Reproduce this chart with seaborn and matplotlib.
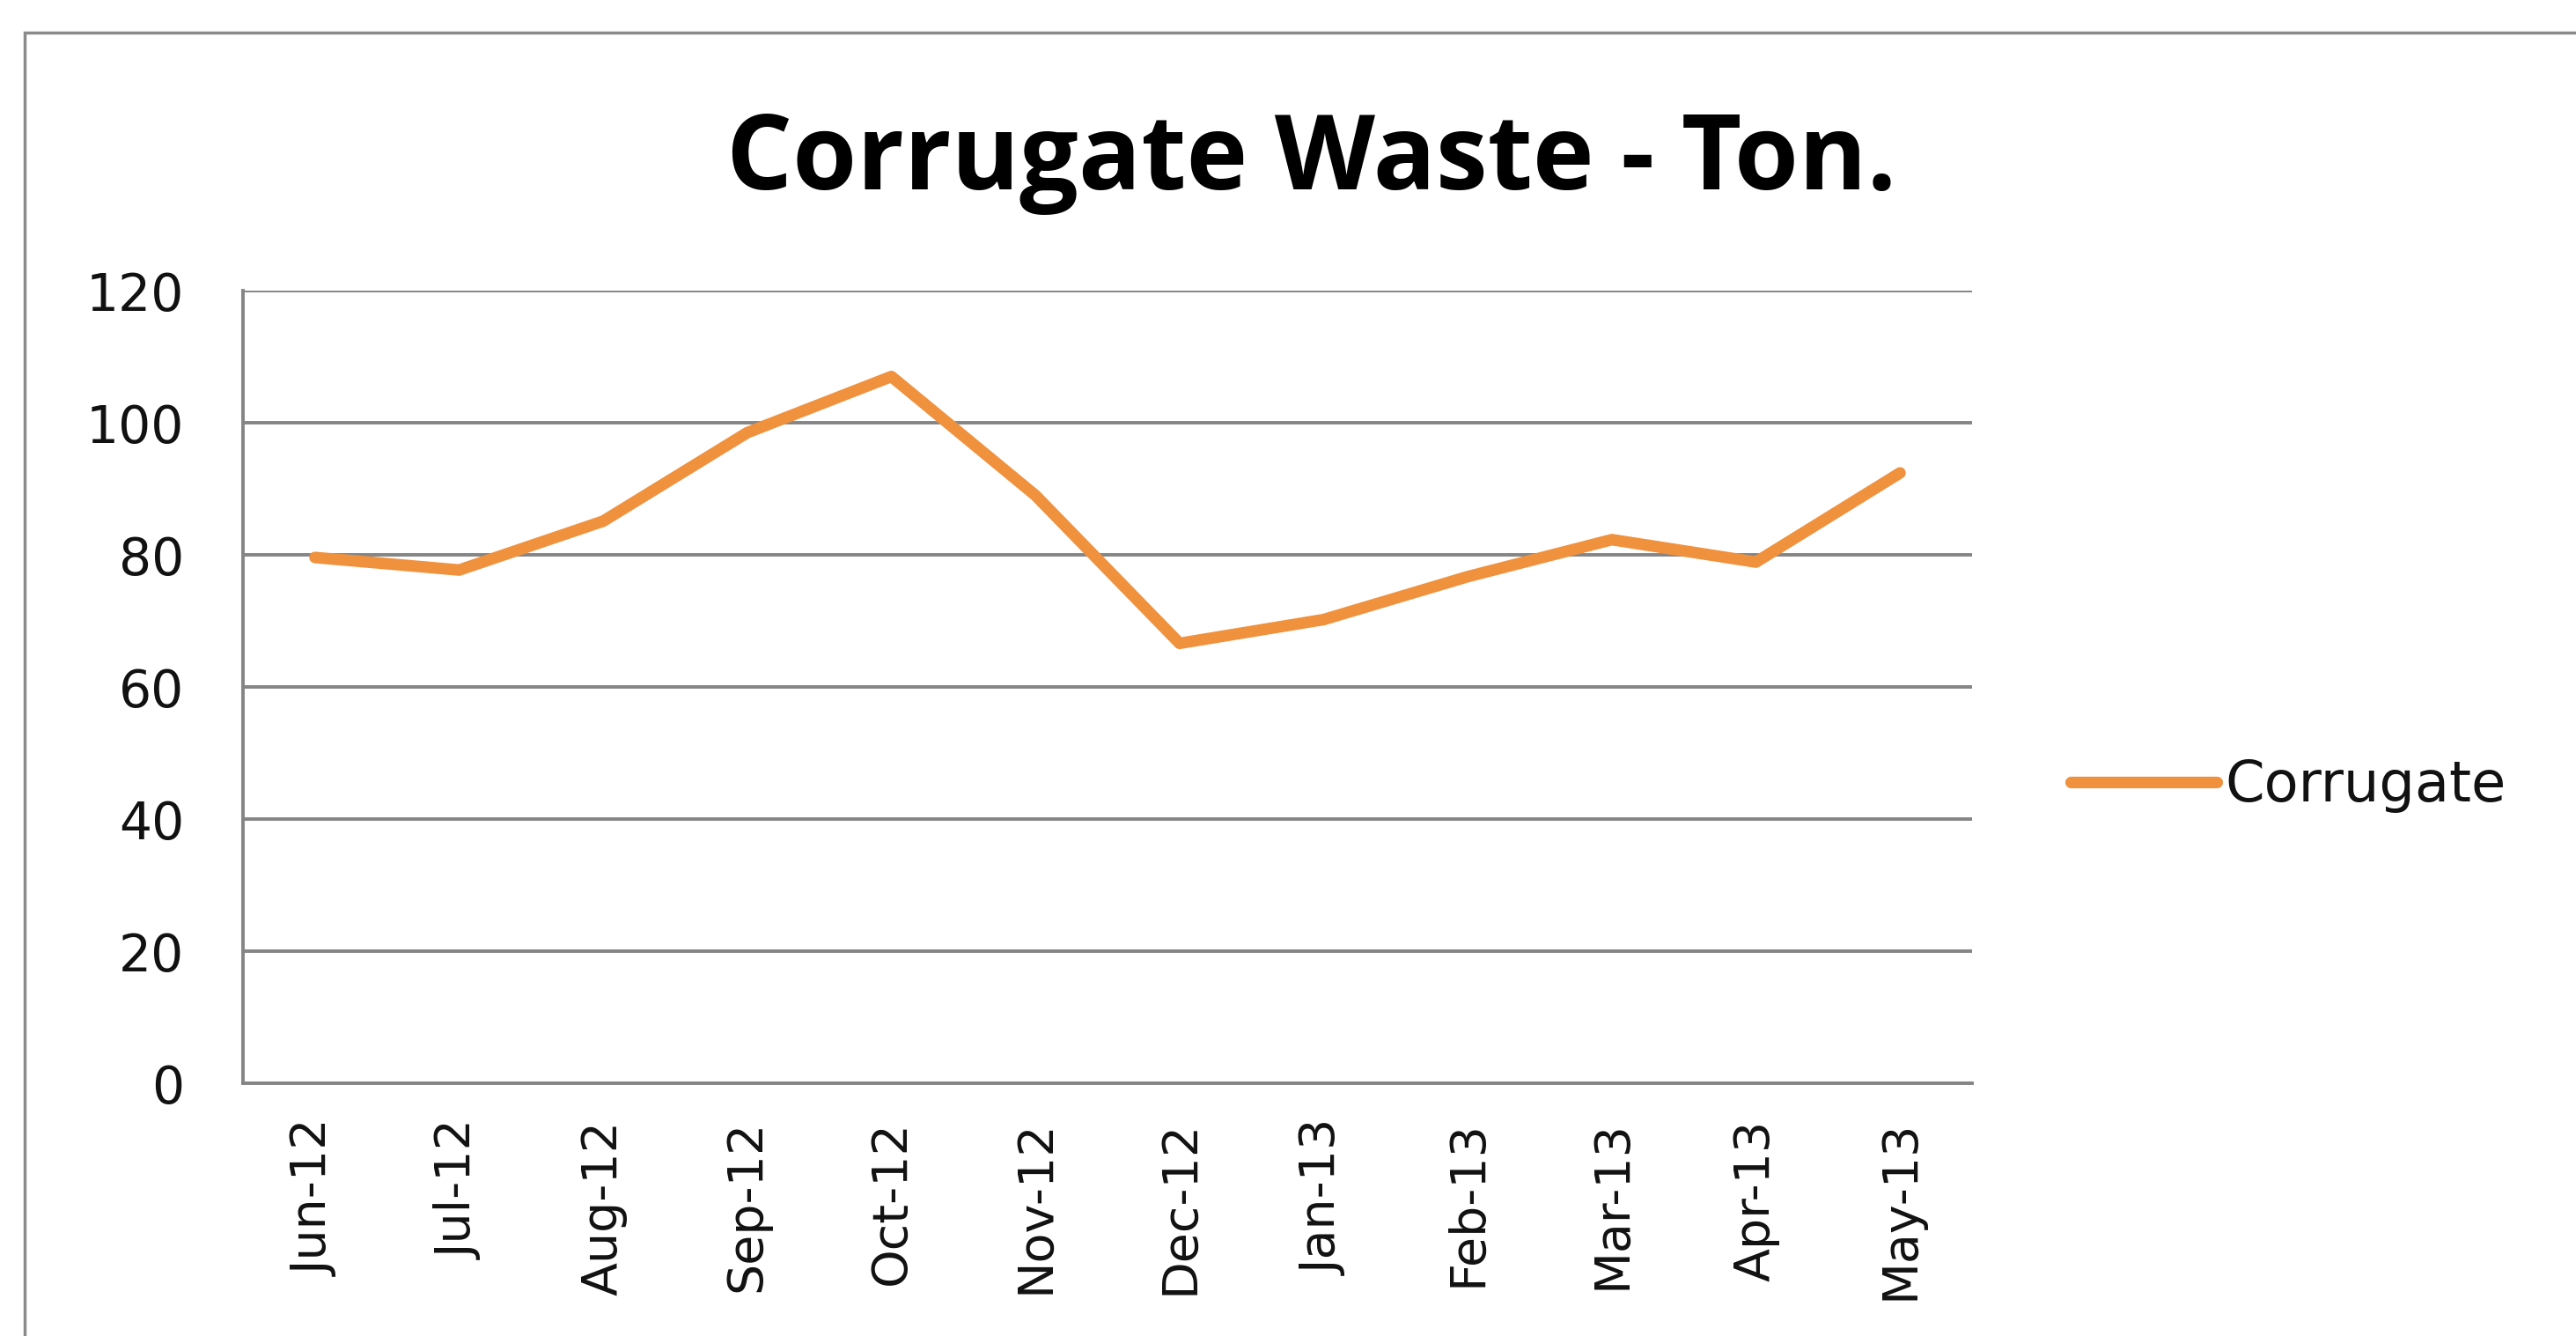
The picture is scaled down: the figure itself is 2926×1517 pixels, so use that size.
import matplotlib
matplotlib.use("Agg")
import matplotlib.pyplot as plt
import seaborn as sns
import pandas as pd
from matplotlib.patches import Rectangle
from matplotlib.lines import Line2D

# ---- data ----
months = ["Jun-12", "Jul-12", "Aug-12", "Sep-12", "Oct-12", "Nov-12",
          "Dec-12", "Jan-13", "Feb-13", "Mar-13", "Apr-13", "May-13"]
corrugate = [79.6, 77.7, 85.1, 98.5, 107.0, 89.0,
             66.6, 70.2, 76.7, 82.3, 78.9, 92.4]
series_name = "Corrugate"
title_text = "Corrugate Waste - Ton."
y_ticks = [0, 20, 40, 60, 80, 100, 120]

df = pd.DataFrame({"month": months, "value": corrugate})

sns.set_theme(style="white")
plt.rcParams["font.family"] = ["DejaVu Sans"]

W, H = 2926, 1517
DPI = 100
fig = plt.figure(figsize=(W / DPI, H / DPI), dpi=DPI, facecolor="white")

# axes placement (pixel-derived)
left, right, top, bottom = 276, 2240, 330, 1230
ax = fig.add_axes([left / W, 1 - bottom / H, (right - left) / W, (bottom - top) / H])

line_color = "#F0913E"
grid_color = "#858585"

sns.lineplot(data=df, x="month", y="value", ax=ax, color=line_color,
             linewidth=9.5, legend=False, sort=False)

ax.set_xlim(-0.5, len(months) - 0.5)
ax.set_ylim(0, 120)
ax.set_yticks(y_ticks)
ax.set_yticklabels([str(t) for t in y_ticks])
ax.set_xlabel("")
ax.set_ylabel("")

# gridlines
ax.yaxis.grid(True, color=grid_color, linewidth=2.8)
ax.xaxis.grid(False)
ax.set_axisbelow(True)

for s in ["top", "right"]:
    ax.spines[s].set_visible(False)
for s in ["left", "bottom"]:
    ax.spines[s].set_color(grid_color)
    ax.spines[s].set_linewidth(2.8)

ax.tick_params(axis="y", length=0, pad=48, labelsize=42, labelcolor="#111111")
ax.tick_params(axis="x", length=0, pad=30, labelsize=40, labelcolor="#111111",
               labelrotation=90)

# title
fig.text(1490 / W, 1 - 215 / H, title_text, ha="center", va="baseline",
         fontsize=85, fontweight="bold", family=["Open Sans", "DejaVu Sans"], color="black")

# outer chart border (left and top visible, rest cropped)
fig.patches.append(Rectangle((28 / W, -0.05), 1.1, 1 - 37 / H + 0.05,
                             transform=fig.transFigure, fill=False,
                             edgecolor="#8a8a8a", linewidth=2.5))

# legend
handle = Line2D([0], [0], color=line_color, linewidth=9.5)
fig.legend([handle], [series_name], loc="center left",
           bbox_to_anchor=(2352 / W, 1 - 892 / H), frameon=False,
           fontsize=46, handlelength=2.6, handletextpad=0.15,
           borderpad=0, borderaxespad=0, labelcolor="#111111")

fig.savefig("out.png", dpi=DPI, facecolor="white")
